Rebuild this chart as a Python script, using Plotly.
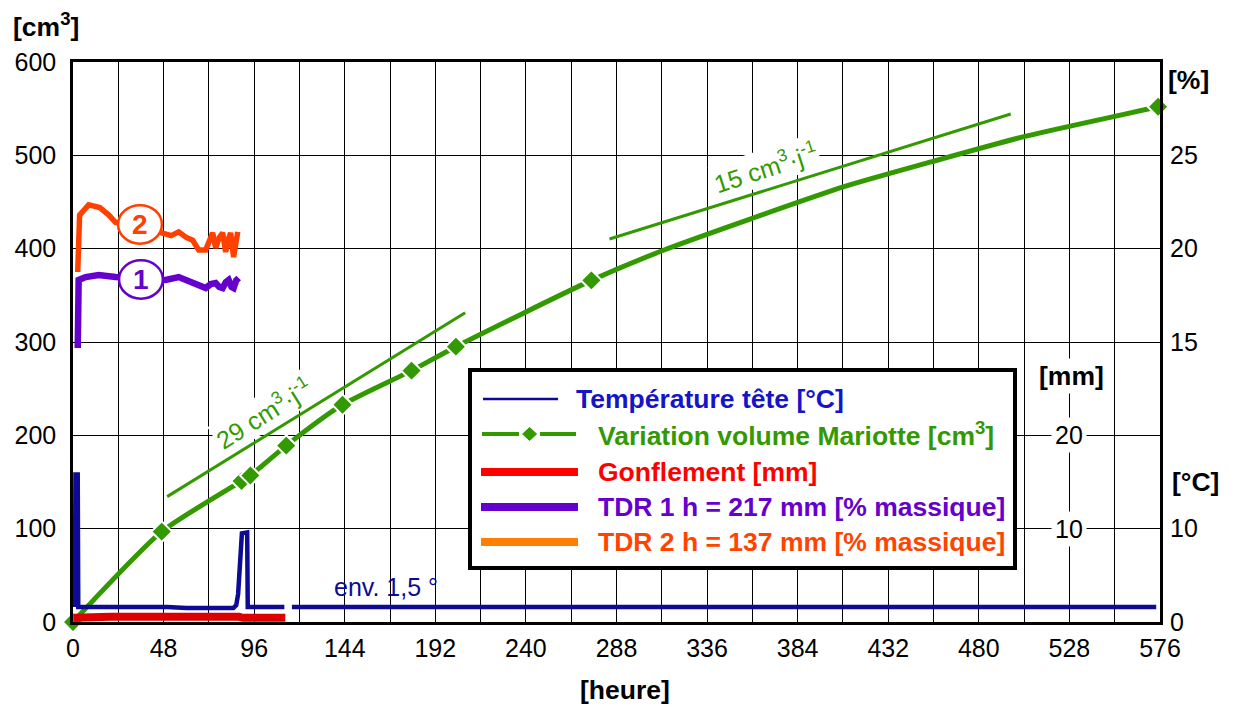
import plotly.graph_objects as go

# ---- data ----
# Mariotte volume variation [cm3] vs time [h]
mariotte_h_pts = [0, 47.0, 89.3, 94.0, 113.0, 142.8, 179.4, 202.9, 274.7, 575]
mariotte_v_pts = [0, 96.8, 151.0, 157.0, 189.0, 232.8, 269.3, 295.0, 366.0, 552]
# extra points read along the curve between the last two measurements
mariotte_h_curve = [0, 47.0, 89.3, 94.0, 113.0, 142.8, 179.4, 202.9, 274.7,
                    313.2, 359.9, 408.6, 455.2, 503.9, 552.6, 575]
mariotte_v_curve = [0, 96.8, 151.0, 157.0, 189.0, 232.8, 269.3, 295.0, 366.0,
                    398.6, 432.5, 466.4, 493.2, 520.0, 542.0, 552]

# tangent lines (slopes 29 and 15 cm3 per day)
slope29_h = [49.9, 207.8]
slope29_v = [134.3, 331.4]
slope15_h = [284.3, 496.9]
slope15_v = [410.4, 544.3]

# head temperature [degC]
temp_h = [1.0, 1.3, 2.5, 2.8, 50, 60, 85, 86.5, 87.5, 88.5, 89.5, 92.3, 92.6,
          112, 114, 116, 574]
temp_c = [1.6, 15.8, 15.8, 1.6, 1.6, 1.5, 1.5, 1.8, 3.0, 7.4, 9.5, 9.6, 1.6,
          1.6, None, 1.6, 1.6]

# swelling [mm]
gonf_h = [0.5, 20, 88, 90, 112.5]
gonf_mm = [0.45, 0.55, 0.55, 0.45, 0.45]

# TDR 1 (h = 217 mm) [% massique]
tdr1_h = [2.5, 3.0, 6.7, 13.6, 22.6, 35.4, 49.1, 56.0, 60.0, 63.4, 67.0, 70.3,
          73.0, 75.6, 77.5, 79.3, 81.0, 82.5, 84.0, 85.1, 86.5, 87.8]
tdr1_pct = [14.68, 18.32, 18.48, 18.59, 18.48, 18.37, 18.32, 18.48, 18.3,
            18.21, 18.0, 17.89, 18.1, 18.16, 17.95, 17.89, 18.2, 18.32, 17.95,
            17.89, 18.3, 18.43]

# TDR 2 (h = 137 mm) [% massique]
tdr2_h = [2.5, 3.5, 8.3, 14.2, 19.0, 22.6, 35.0, 47.6, 52.0, 56.0, 60.0, 63.4,
          66.6, 70.3, 72.0, 74.0, 75.6, 77.5, 79.3, 80.9, 82.0, 83.5, 85.1,
          86.2, 87.3]
tdr2_pct = [18.75, 21.8, 22.35, 22.2, 21.8, 21.4, 21.2, 20.85, 20.7, 20.9,
            20.6, 20.45, 19.93, 19.93, 20.3, 20.85, 20.04, 20.6, 20.85, 19.82,
            20.4, 20.85, 19.55, 20.3, 20.9]

x_ticks = list(range(0, 577, 48))
pct_ticks = [15, 20, 25]
degc_ticks = [0, 10]
mm_ticks = [10, 20]

# ---- styling ----
FONT = "Liberation Sans, Arial, sans-serif"
FS = 25
FSB = 26.5
GREEN = "#339900"
NAVY = "#0d0b96"
RED_LINE = "#dd0000"
PURPLE = "#6600cc"
ORANGE = "#ff4000"

W, H = 1236, 709
PL, PR, PT, PB = 73, 1160, 62, 622


def px_x(p):
    return (p - PL) / (PR - PL)


def px_y(p):
    return (PB - p) / (PB - PT)


fig = go.Figure()

# tangent lines
fig.add_trace(go.Scatter(x=slope29_h, y=slope29_v, mode="lines",
                         line=dict(color=GREEN, width=3), yaxis="y"))
fig.add_trace(go.Scatter(x=slope15_h, y=slope15_v, mode="lines",
                         line=dict(color=GREEN, width=3), yaxis="y"))

# Mariotte curve + diamonds
fig.add_trace(go.Scatter(x=mariotte_h_curve, y=mariotte_v_curve, mode="lines",
                         line=dict(color=GREEN, width=5, shape="spline", smoothing=0.6),
                         yaxis="y"))
fig.add_trace(go.Scatter(x=mariotte_h_pts, y=mariotte_v_pts, mode="markers",
                         marker=dict(symbol="diamond", size=16, color=GREEN,
                                     line=dict(color="white", width=2)),
                         yaxis="y", cliponaxis=False))

# temperature
fig.add_trace(go.Scatter(x=temp_h, y=temp_c, mode="lines",
                         line=dict(color=NAVY, width=4.5), yaxis="y3",
                         connectgaps=False))
# swelling
fig.add_trace(go.Scatter(x=gonf_h, y=gonf_mm, mode="lines",
                         line=dict(color=RED_LINE, width=8), yaxis="y4"))
# TDR
fig.add_trace(go.Scatter(x=tdr1_h, y=tdr1_pct, mode="lines",
                         line=dict(color=PURPLE, width=6.5), yaxis="y2"))
fig.add_trace(go.Scatter(x=tdr2_h, y=tdr2_pct, mode="lines",
                         line=dict(color=ORANGE, width=5.5), yaxis="y2"))

shapes = []
annotations = []

# circles with numbers
for cx, cy, lab, col in [(35.5, 21.3, "2", ORANGE), (36.0, 18.35, "1", PURPLE)]:
    shapes.append(dict(type="circle", xref="x", yref="y2",
                       x0=cx - 11.6, x1=cx + 11.6, y0=cy - 1.03, y1=cy + 1.03,
                       line=dict(color=col, width=2.5), fillcolor="white",
                       layer="above"))
    annotations.append(dict(x=cx, y=cy, xref="x", yref="y2", text="<b>" + lab + "</b>",
                            showarrow=False, font=dict(family=FONT, size=28, color=col)))

# slope labels
annotations.append(dict(x=100.8, y=223.6, xref="x", yref="y",
                        text="29 cm<sup>3</sup>·j<sup>-1</sup>", textangle=-32,
                        showarrow=False, bgcolor="white",
                        font=dict(family=FONT, size=25, color=GREEN)))
annotations.append(dict(x=367, y=487, xref="x", yref="y",
                        text="15 cm<sup>3</sup>·j<sup>-1</sup>", textangle=-18,
                        showarrow=False, bgcolor="white",
                        font=dict(family=FONT, size=25, color=GREEN)))
annotations.append(dict(x=166, y=3.8, xref="x", yref="y3", text="env. 1,5 °",
                        showarrow=False, font=dict(family=FONT, size=25, color=NAVY)))

# mm axis labels inside the plot
for v in mm_ticks:
    annotations.append(dict(x=528, y=v, xref="x", yref="y4", text=str(v),
                            showarrow=False, bgcolor="white", borderpad=3,
                            font=dict(family=FONT, size=FS, color="black")))
annotations.append(dict(x=529, y=26.4, xref="x", yref="y4", text="<b>[mm]</b>",
                        showarrow=False, bgcolor="white", borderpad=2,
                        font=dict(family=FONT, size=FSB, color="black")))

# axis unit titles
for txt, x, y in [("<b>[cm<sup>3</sup>]</b>", 46, 25), ("<b>[heure]</b>", 625, 690),
                  ("<b>[%]</b>", 1188, 80), ("<b>[°C]</b>", 1195, 482)]:
    annotations.append(dict(x=px_x(x), y=px_y(y), xref="paper", yref="paper",
                            xanchor="center", yanchor="middle",
                            text=txt, showarrow=False,
                            font=dict(family=FONT, size=FSB, color="black")))

# manual legend
shapes.append(dict(type="rect", xref="paper", yref="paper",
                   x0=px_x(470), x1=px_x(1015), y0=px_y(568), y1=px_y(370),
                   line=dict(color="black", width=4), fillcolor="white", layer="above"))
legend_rows = [
    ("Température tête [°C]", "#1414c8", 399, NAVY, 2.5, 483, 558, 574),
    ("Variation volume Mariotte [cm<sup>3</sup>]", GREEN, 434, GREEN, 4, 482, 576, 596),
    ("Gonflement [mm]", "#ff0000", 472, "#ff0000", 8, 481, 578, 596),
    ("TDR 1 h = 217 mm [% massique]", PURPLE, 507, PURPLE, 8, 481, 578, 596),
    ("TDR 2 h = 137 mm [% massique]", "#ff4400", 542, "#ff8000", 8, 481, 578, 596),
]
for name, tcol, ry, lcol, lw, lx0, lx1, tx in legend_rows:
    if "Mariotte" in name:
        for a, b in [(lx0, 519), (540, lx1)]:
            shapes.append(dict(type="line", xref="paper", yref="paper",
                               x0=px_x(a), x1=px_x(b), y0=px_y(ry), y1=px_y(ry),
                               line=dict(color=lcol, width=lw), layer="above"))
        cx = 529.6
        path = "M {} {} L {} {} L {} {} L {} {} Z".format(
            px_x(cx - 7), px_y(ry), px_x(cx), px_y(ry - 6.5),
            px_x(cx + 7), px_y(ry), px_x(cx), px_y(ry + 6.5))
        shapes.append(dict(type="path", xref="paper", yref="paper", path=path,
                           fillcolor=lcol, line=dict(color=lcol, width=1), layer="above"))
    else:
        shapes.append(dict(type="line", xref="paper", yref="paper",
                           x0=px_x(lx0), x1=px_x(lx1), y0=px_y(ry), y1=px_y(ry),
                           line=dict(color=lcol, width=lw), layer="above"))
    annotations.append(dict(x=px_x(tx), y=px_y(ry), xref="paper", yref="paper",
                            xanchor="left", yanchor="middle", text="<b>" + name + "</b>",
                            showarrow=False, font=dict(family=FONT, size=FSB, color=tcol)))

fig.update_layout(
    width=W, height=H,
    margin=dict(l=PL, r=W - PR, t=PT, b=H - PB),
    paper_bgcolor="white", plot_bgcolor="white",
    showlegend=False,
    font=dict(family=FONT, size=FS, color="black"),
    xaxis=dict(range=[0, 576], tickvals=x_ticks, showgrid=True, gridcolor="black",
               gridwidth=1.3, zeroline=False, showline=True, linecolor="black",
               linewidth=2.5, mirror=True, ticks="", ticklabelstandoff=2,
               minor=dict(dtick=24, showgrid=True, gridcolor="black", gridwidth=1.3)),
    yaxis=dict(range=[0, 600], dtick=100, showgrid=True, gridcolor="black",
               gridwidth=1.3, zeroline=False, showline=True, linecolor="black",
               linewidth=2.5, mirror=True, ticks="", ticklabelstandoff=9),
    yaxis2=dict(range=[0, 30], overlaying="y", side="right", anchor="x",
                tickvals=pct_ticks, showgrid=False, zeroline=False, ticks="",
                ticklabelstandoff=9),
    yaxis3=dict(range=[0, 60], overlaying="y", side="right", anchor="x",
                tickvals=degc_ticks, showgrid=False, zeroline=False, ticks="",
                ticklabelstandoff=9),
    yaxis4=dict(range=[0, 60], overlaying="y", side="right", anchor="x",
                showticklabels=False, showgrid=False, zeroline=False, ticks=""),
    shapes=shapes,
    annotations=annotations,
)

fig.write_html("out.html", config={"displayModeBar": False},
               post_script="document.body.style.margin='0';")
